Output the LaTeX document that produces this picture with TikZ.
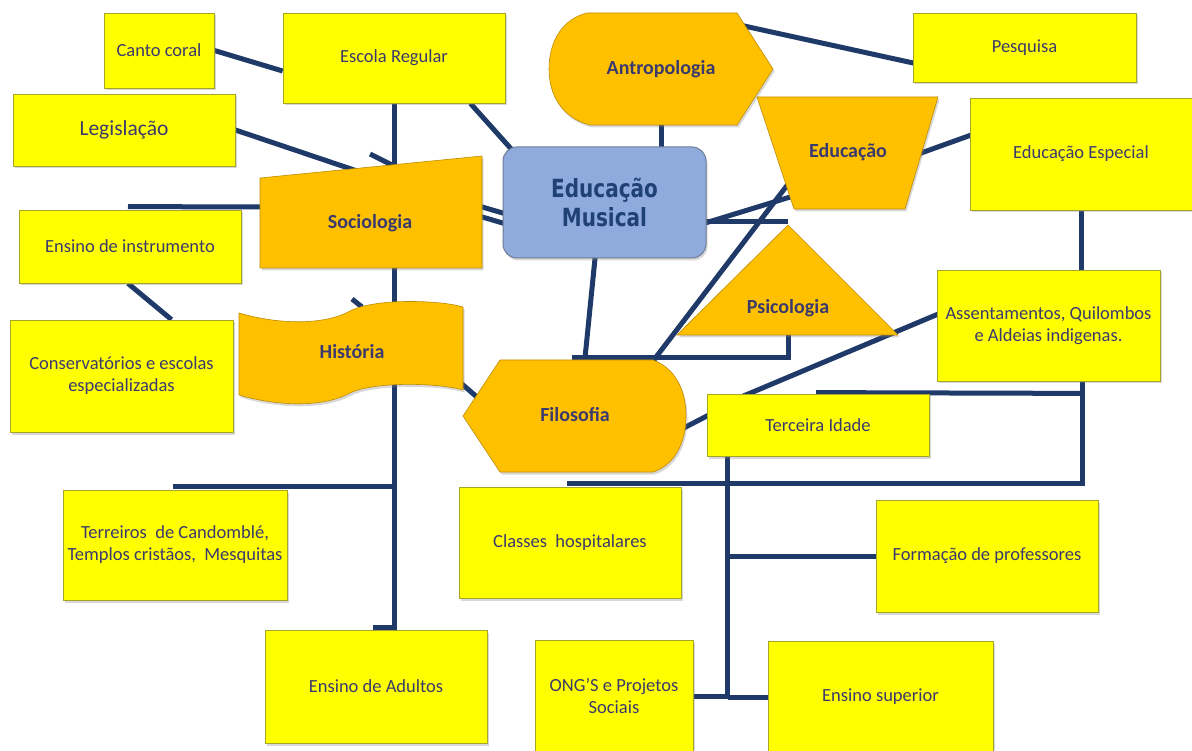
\documentclass[tikz,border=0pt]{standalone}
\usepackage{fontspec}
\setmainfont{Carlito}
\newfontfamily\musfont[FakeStretch=0.8]{DejaVu Sans}
\usetikzlibrary{calc,shadows,backgrounds}

\definecolor{linkblue}{RGB}{31,58,104}
\definecolor{boxyellow}{RGB}{255,255,0}
\definecolor{boxedge}{RGB}{165,165,40}
\definecolor{orfill}{RGB}{255,192,0}
\definecolor{oredge}{RGB}{190,140,0}
\definecolor{musfill}{RGB}{143,170,220}
\definecolor{musedge}{RGB}{110,125,150}
\definecolor{labtext}{RGB}{58,58,110}
\definecolor{mustext}{RGB}{31,65,115}

\tikzset{
  softshadow/.style={drop shadow={shadow xshift=1.5pt, shadow yshift=-2.5pt, opacity=0.3}},
  ybox/.style={draw=boxedge, fill=boxyellow, line width=0.8pt, inner sep=0pt, align=center,
    text=labtext, font=\fontsize{18.5}{22}\selectfont, softshadow},
  orshape/.style={fill=orfill, draw=oredge, line width=0.6pt, softshadow},
  orlabel/.style={text=labtext, font=\fontsize{20}{24}\selectfont\bfseries},
  link/.style={draw=linkblue, line width=5pt},
}

\begin{document}
\begin{tikzpicture}[x=1pt, y=-1pt]
  \useasboundingbox (0,0) rectangle (1192,751);
  \begin{pgfonlayer}{background}
    \fill[white] (0,0) rectangle (1192,751);
  \end{pgfonlayer}

  % yellow boxes
  \node[ybox, minimum width=110, minimum height=75] (canto) at (159,50.5) {Canto coral};
  \node[ybox, minimum width=222, minimum height=90] (escola) at (394,58) {Escola Regular};
  \node[ybox, minimum width=222, minimum height=72, font=\fontsize{21.5}{26}\selectfont] (legis) at (124,130) {Legislação};
  \node[ybox, minimum width=222, minimum height=73] (instr) at (130,246.5) {Ensino de instrumento};
  \node[ybox, minimum width=223, minimum height=112] (conserv) at (121.5,376) {Conservatórios e escolas\\especializadas};
  \node[ybox, minimum width=224, minimum height=110] (terreiros) at (175,545) {Terreiros\ \ de Candomblé,\\Templos cristãos,\ \ Mesquitas};
  \node[ybox, minimum width=222, minimum height=113] (adultos) at (376,686.5) {Ensino de Adultos};
  \node[ybox, minimum width=222, minimum height=111] (classes) at (570,542.5) {Classes\ \ hospitalares};
  \node[ybox, minimum width=158, minimum height=112] (ongs) at (614,696) {ONG'S e Projetos\\Sociais};
  \node[ybox, minimum width=225, minimum height=112] (superior) at (880.5,697) {Ensino superior};
  \node[ybox, minimum width=222, minimum height=112] (formacao) at (987,556) {Formação de professores};
  \node[ybox, minimum width=222, minimum height=62] (terceira) at (818,425) {Terceira Idade};
  \node[ybox, minimum width=223, minimum height=111] (assent) at (1048.5,325.5) {Assentamentos, Quilombos\\e Aldeias indigenas.};
  \node[ybox, minimum width=222, minimum height=112] (edesp) at (1081,154) {Educação Especial};
  \node[ybox, minimum width=223, minimum height=69] (pesquisa) at (1024.5,47.5) {Pesquisa};

  % centre
  \node[draw=musedge, fill=musfill, rounded corners=14pt, line width=1pt, minimum width=203, minimum height=111,
    align=center, text=mustext, font=\musfont\bfseries\fontsize{25}{29}\selectfont, softshadow] (musical) at (604.5,202.5) {Educação\\Musical};

  % orange shapes
  \path[orshape] (587,13) -- (737,13) -- (773,69) -- (737,125) -- (590,125)
    .. controls (562,118) and (549,95) .. (549,69) .. controls (549,42) and (562,19) .. (587,13) -- cycle;
  \node[orlabel] (antro) at (661,69) {Antropologia};
  \path[orshape] (260,178) -- (482,156) -- (482,268) -- (260,268) -- cycle;
  \node[orlabel] (socio) at (370,223) {Sociologia};
  \path[orshape] (757,97) -- (938,97) -- (905,209) -- (794,209) -- cycle;
  \node[orlabel] (educ) at (848,152) {Educação};
  \path[orshape] (788,225) -- (898,335) -- (677,335) -- cycle;
  \node[orlabel] (psico) at (788,308) {Psicologia};
  \path[orshape] (239,313) .. controls (280,325) and (325,325) .. (350,311) .. controls (375,298) and (440,300) .. (463,307)
    -- (463,390) .. controls (440,383) and (375,381) .. (350,393) .. controls (325,407) and (280,407) .. (239,395) -- cycle;
  \node[orlabel] (hist) at (352,352) {História};
  \path[orshape] (463,416) -- (500,360) -- (653,360) .. controls (675,368) and (686,390) .. (686,416)
    .. controls (686,442) and (675,465) .. (653,472) -- (500,472) -- cycle;
  \node[orlabel] (filos) at (575,415) {Filosofia};

  % connectors
  \begin{pgfonlayer}{background}
    \draw[link] (canto.east) -- ($(escola.west)+(0,13)$);
    \draw[link] (escola.south) |- ($(adultos.north)+(-3,-2)$);
    \draw[link] ($(terreiros.north)+(-2,-3)$) -| (escola.south);
    \draw[link] ($(escola.south east)+(-35,0)$) -- ($(musical.north west)+(19,14)$);
    \draw[link] (legis.east) -- ($(socio)+(-10,-51)$);
    \draw[link] ($(socio)+(0,-69)$) -- ($(socio)+(24,-57)$);
    \draw[link] ($(instr.north)+(-2,-3)$) -- ($(socio)+(-100,-16)$);
    \draw[link] ($(socio)+(102,-19)$) -- ($(musical.west)+(12,14)$);
    \draw[link] ($(socio)+(102,-9)$) -- ($(musical.west)+(12,24)$);
    \draw[link] ($(instr.south)+(-2,0)$) -- ($(conserv.north)+(50,0)$);
    \draw[link] ($(hist)+(0,-53)$) -- ($(hist)+(10,-45)$);
    \draw[link] ($(hist)+(103,26)$) -- ($(filos)+(-90,-11)$);
    \draw[link] ($(antro)+(74,-45)$) -- ($(pesquisa.west)+(12,18)$);
    \draw[link] (antro.south) -- (antro.south |- musical.center);
    \draw[link] ($(educ)+(62,5)$) -- ($(edesp.west)+(10,-22)$);
    \draw[link] ($(musical.east)+(-11,23.5)$) -- ($(educ)+(-48,42)$);
    \coordinate (mstart) at ($(musical.east)+(-10,19.5)$);
    \draw[link] (mstart) -- (mstart -| psico);
    \draw[link] ($(educ)+(-53,23)$) -- ($(filos)+(76.5,-52)$);
    \draw[link] ($(musical.south)+(-9,-5)$) -- ($(filos)+(9.5,-52)$);
    \draw[link] ($(psico)+(0,20)$) |- ($(filos)+(-3,-57)$);
    \draw[link] (edesp.south) -- (edesp.south |- assent.north);
    \draw[link] ($(assent.west)+(10,-15)$) -- ($(terceira.north west)+(33,4)$);
    \draw[link] ($(filos)+(103,16)$) -- ($(terceira.west)+(8,-13)$);
    \draw[link] ($(assent.south)+(34,0)$) |- ($(classes.north)+(-3,-3)$);
    \draw[link] ($(terceira.north)+(-2,-1)$) -- ($(assent.south)+(34,12)$);
    \coordinate (tstem) at ($(terceira.south west)+(21,0)$);
    \draw[link] (tstem) |- (ongs.east);
    \draw[link] (tstem |- superior.west) -- (superior.west);
    \draw[link] (tstem |- formacao.west) -- (formacao.west);
  \end{pgfonlayer}
\end{tikzpicture}
\end{document}
